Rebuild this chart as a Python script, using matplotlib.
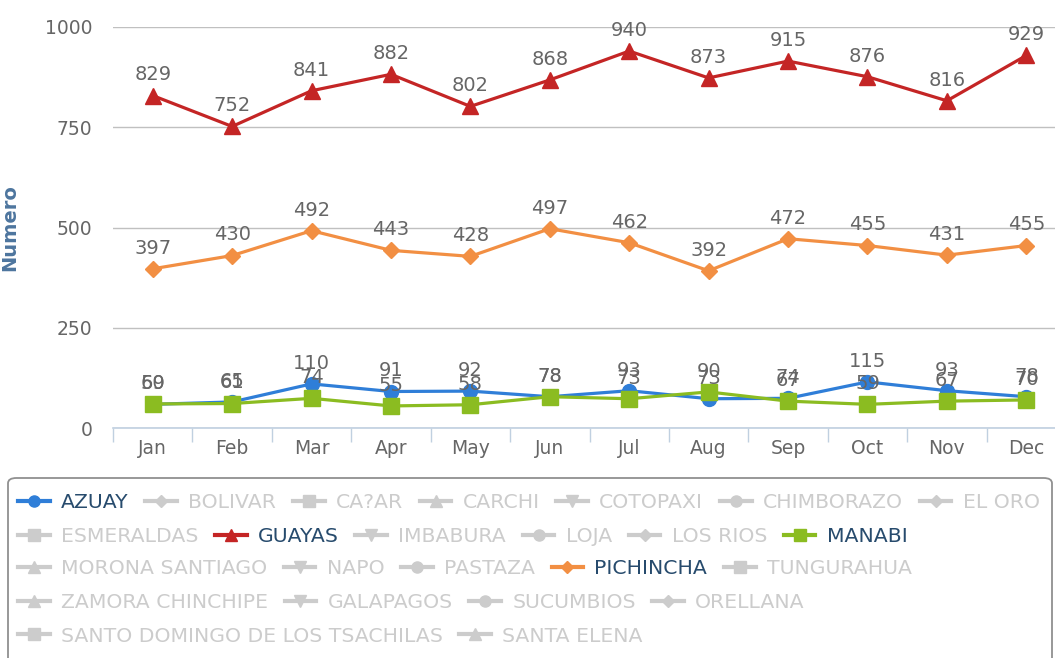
import matplotlib
matplotlib.use("Agg")
import matplotlib.pyplot as plt
from matplotlib.lines import Line2D
from matplotlib.patches import FancyBboxPatch

months = ["Jan", "Feb", "Mar", "Apr", "May", "Jun",
          "Jul", "Aug", "Sep", "Oct", "Nov", "Dec"]

azuay = [59, 65, 110, 91, 92, 78, 93, 73, 74, 115, 93, 78]
guayas = [829, 752, 841, 882, 802, 868, 940, 873, 915, 876, 816, 929]
manabi = [60, 61, 74, 55, 58, 78, 73, 90, 67, 59, 67, 70]
pichincha = [397, 430, 492, 443, 428, 497, 462, 392, 472, 455, 431, 455]

provinces = ["AZUAY", "BOLIVAR", "CA?AR", "CARCHI", "COTOPAXI", "CHIMBORAZO",
             "EL ORO", "ESMERALDAS", "GUAYAS", "IMBABURA", "LOJA", "LOS RIOS",
             "MANABI", "MORONA SANTIAGO", "NAPO", "PASTAZA", "PICHINCHA",
             "TUNGURAHUA", "ZAMORA CHINCHIPE", "GALAPAGOS", "SUCUMBIOS",
             "ORELLANA", "SANTO DOMINGO DE LOS TSACHILAS", "SANTA ELENA"]
legend_rows = [7, 6, 5, 4, 2]

yticks = [0, 250, 500, 750, 1000]

palette = ['#2f7ed8', '#0d233a', '#8bbc21', '#910000', '#1aadce',
           '#492970', '#f28f43', '#77a1e5', '#c42525', '#a6c96a']
markers = ['o', 'D', 's', '^', 'v']
marker_size = {'o': 10, 'D': 8.5, 's': 11, '^': 11, 'v': 11}

shown = {"AZUAY": azuay, "GUAYAS": guayas, "MANABI": manabi, "PICHINCHA": pichincha}

W, H = 1055, 658
fig = plt.figure(figsize=(W / 100, H / 100), dpi=100)
ax = fig.add_axes([113 / W, (H - 428) / H, 953 / W, 401 / H])

x = list(range(len(months)))
for i, name in enumerate(provinces):
    if name not in shown:
        continue
    vals = shown[name]
    mk = markers[i % 5]
    ax.plot(x, vals, color=palette[i % 10], lw=2.3, marker=mk,
            ms=marker_size[mk], mec=palette[i % 10], zorder=3, clip_on=False)

for i, name in enumerate(provinces):
    if name not in shown:
        continue
    for xi, v in zip(x, shown[name]):
        ax.annotate(str(v), (xi, v), xytext=(0, 8), textcoords="offset points",
                    ha="center", va="bottom", fontsize=14, color="#666666",
                    zorder=5, annotation_clip=False)

ax.set_xlim(-0.5, 11.5)
ax.set_ylim(0, 1000)
ax.set_yticks(yticks)
ax.set_xticks(x)
ax.set_xticklabels(months)
ax.set_xticks([i - 0.5 for i in range(13)], minor=True)
ax.tick_params(axis="x", which="major", length=0, pad=8, labelsize=13.5,
               labelcolor="#666666")
ax.tick_params(axis="x", which="minor", length=10, color="#C0D0E0", width=1)
ax.tick_params(axis="y", length=0, pad=15, labelsize=13.5, labelcolor="#666666")
ax.grid(axis="y", color="#C0C0C0", lw=1)
ax.set_axisbelow(True)
for s in ["left", "right", "top"]:
    ax.spines[s].set_visible(False)
ax.spines["bottom"].set_color("#C0D0E0")
ax.spines["bottom"].set_linewidth(1.2)
ax.set_ylabel("Numero", fontsize=14, fontweight="bold", color="#4d759e", labelpad=18)

# legend box
box = FancyBboxPatch((8 / W, -0.05), 1044 / W, (H - 478) / H + 0.05,
                     boxstyle="round,pad=0,rounding_size=0.008",
                     transform=fig.transFigure, fc="white", ec="#909090", lw=1.3)
fig.add_artist(box)

row_y = [503, 537, 569, 603, 636]
start = 0
for r, n in enumerate(legend_rows):
    handles, labels = [], []
    for i in range(start, start + n):
        name = provinces[i]
        c = palette[i % 10] if name in shown else "#CCCCCC"
        mk = markers[i % 5]
        handles.append(Line2D([], [], color=c, lw=3, marker=mk,
                              ms=marker_size[mk] - 2, mec=c))
        labels.append(name)
    leg = fig.legend(handles, labels, loc="center left",
                     bbox_to_anchor=(18 / W, 1 - row_y[r] / H), ncol=n,
                     frameon=False, fontsize=14.7, handlelength=1.55,
                     handletextpad=0.55, columnspacing=0.82, borderpad=0,
                     borderaxespad=0)
    for t, name in zip(leg.get_texts(), labels):
        t.set_color("#274b6d" if name in shown else "#CCCCCC")
    start += n

fig.savefig("out.png", dpi=100)
